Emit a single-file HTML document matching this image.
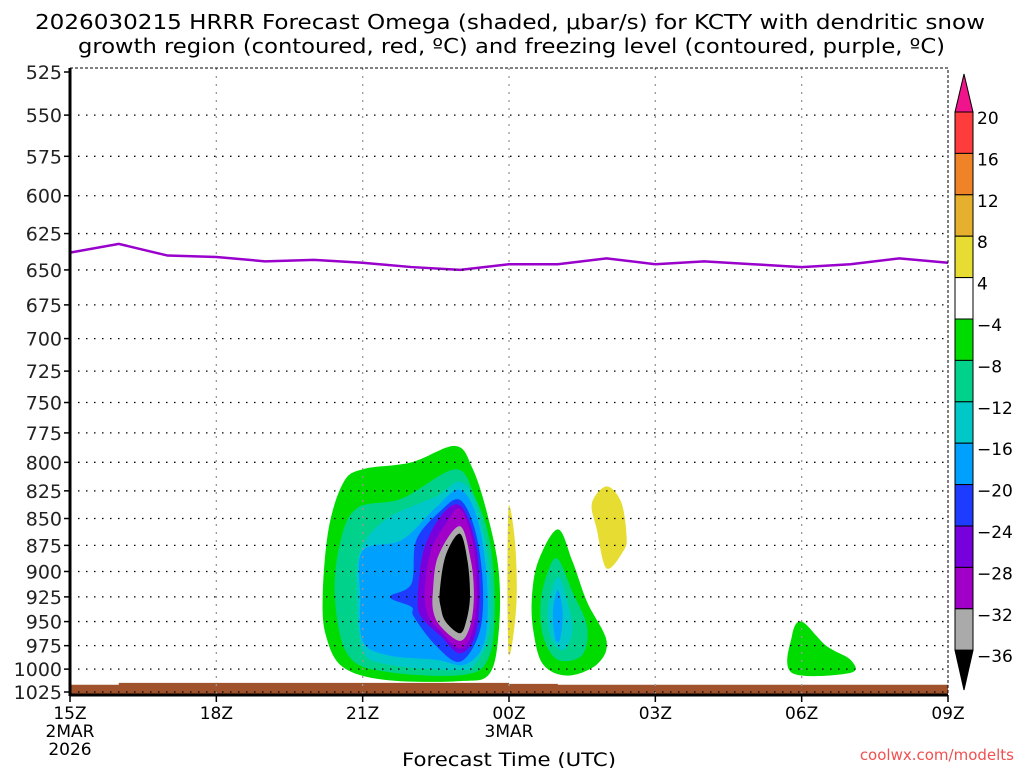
<!DOCTYPE html>
<html><head><meta charset="utf-8"><style>
body{margin:0;background:#fff;}
svg{display:block;font-family:"DejaVu Sans","Liberation Sans",sans-serif;}
</style></head><body>
<svg id="chart" width="1024" height="768" viewBox="0 0 1024 768">
<text x="35" y="29" font-size="20" textLength="950" lengthAdjust="spacingAndGlyphs">2026030215 HRRR Forecast Omega (shaded, μbar/s) for KCTY with dendritic snow</text>
<text x="78" y="53" font-size="20" textLength="867" lengthAdjust="spacingAndGlyphs">growth region (contoured, red, ºC) and freezing level (contoured, purple, ºC)</text>
<g id="shades"></g>
<g id="grid"></g>
<g id="axes"></g>
<g id="cbar"></g>
<text x="402" y="766" font-size="19" textLength="214" lengthAdjust="spacingAndGlyphs">Forecast Time (UTC)</text>
<text x="1014" y="760" font-size="15" text-anchor="end" fill="#f05050">coolwx.com/modelts</text>
</svg>
<script>
const pressureTicks=[525,550,575,600,625,650,675,700,725,750,775,800,825,850,875,900,925,950,975,1000,1025];
const timeTickHours=[15,18,21,24,27,30,33];
const timeTickLabels=["15Z","18Z","21Z","00Z","03Z","06Z","09Z"];
const freezeHours=[15,16,17,18,19,20,21,22,23,24,25,26,27,28,29,30,31,32,33];
const freezeLevel=[638,632,640,641,644,643,645,648,650,646,646,642,646,644,646,648,646,642,645];
const groundHours=[15,16,17,18,19,20,21,22,23,24,25,26,27,28,29,30,31,32,33];
const groundPres=[1017,1015,1015,1015,1015,1015,1015,1015,1015,1016,1017,1017,1017,1017,1017,1017,1017,1017,1017];
const cbLevels=["20","16","12","8","4","−4","−8","−12","−16","−20","−24","−28","−32","−36"];
const cbColors=["#ff3c3c","#f08228","#e6af2d","#e6dc32","#ffffff","#00dc00","#00d28c","#00c8c8","#00a0ff","#1e3cff","#7800dc","#a000c8","#aaaaaa"];
const regGreen=[[20.18,925],[20.3,860],[20.6,818],[21.0,806],[22.0,800],[22.9,786],[23.25,805],[23.55,845],[23.79,900],[23.79,960],[23.6,1005],[23.0,1013],[21.5,1012],[20.6,998],[20.25,965]];
const regTeal=[[20.43,925],[20.55,870],[20.9,840],[21.8,832],[22.9,806],[23.3,830],[23.6,870],[23.71,930],[23.6,985],[23.1,1006],[21.5,1003],[20.7,985]];
const regCyan=[[20.88,925],[20.95,880],[21.5,850],[22.5,830],[23.0,817],[23.35,840],[23.6,900],[23.6,960],[23.3,995],[22.9,1001],[21.5,995],[21.0,980]];
const regLightBlue=[[20.95,925],[21.0,880],[21.8,870],[22.5,840],[22.99,824],[23.35,850],[23.55,910],[23.5,970],[23.1,995],[22.5,990],[21.5,985],[21.0,970]];
const regBlue=[[21.56,925],[22.0,912],[22.1,870],[22.6,843],[22.99,833],[23.3,860],[23.46,910],[23.4,960],[23.0,992],[22.5,975],[22.05,945],[22.0,935]];
const regPurple=[[22.13,925],[22.25,880],[22.6,848],[22.99,838],[23.3,870],[23.4,920],[23.3,965],[22.99,983],[22.6,965],[22.2,945]];
const regViolet=[[22.27,920],[22.4,880],[22.7,855],[22.99,841],[23.25,870],[23.34,920],[23.25,960],[22.99,978],[22.6,960],[22.35,945]];
const regGray=[[22.44,920],[22.55,885],[22.99,857],[23.22,890],[23.28,925],[23.2,955],[22.99,970],[22.6,955],[22.45,940]];
const regBlack=[[22.58,920],[22.7,885],[22.99,864],[23.15,890],[23.2,925],[23.12,950],[22.99,962],[22.7,950],[22.6,935]];
const regYellow1=[[24.0,838],[24.12,870],[24.16,920],[24.1,960],[24.0,985],[23.97,940],[23.97,880]];
const regYellow2=[[26.0,821],[26.3,835],[26.41,866],[26.35,880],[26.0,897],[25.8,860],[25.7,836]];
const reg2Green=[[25.0,860],[25.3,890],[25.6,930],[26.0,970],[25.8,995],[25.2,1007],[24.7,995],[24.5,960],[24.47,925],[24.6,890]];
const reg2Teal=[[25.0,888],[25.3,920],[25.6,955],[25.5,985],[25.0,990],[24.7,965],[24.65,930],[24.8,900]];
const reg2Cyan=[[25.0,905],[25.2,930],[25.3,960],[25.1,980],[24.85,965],[24.8,935]];
const reg2LightBlue=[[25.0,918],[25.1,940],[25.05,968],[24.95,968],[24.9,940]];
const reg3Green=[[30.0,950],[30.5,975],[31.0,990],[31.0,1004],[29.8,1004],[29.8,965]];

const NS="http://www.w3.org/2000/svg";
const X0=70,X1=948,Y0=68,YB=695;
const x=h=>X0+(h-15)*(X1-X0)/18;
const y=p=>72+(Math.log(p)-Math.log(525))/(Math.log(1025)-Math.log(525))*620;
function mk(t,a,parent){const e=document.createElementNS(NS,t);for(const k in a)e.setAttribute(k,a[k]);parent.appendChild(e);return e;}
function smooth(pts){
  const P=pts.map(q=>[x(q[0]),y(q[1])]);const n=P.length;let d=`M${P[0][0]},${P[0][1]}`;
  for(let i=0;i<n;i++){const p0=P[(i-1+n)%n],p1=P[i],p2=P[(i+1)%n],p3=P[(i+2)%n];
    d+=`C${p1[0]+(p2[0]-p0[0])/6},${p1[1]+(p2[1]-p0[1])/6} ${p2[0]-(p3[0]-p1[0])/6},${p2[1]-(p3[1]-p1[1])/6} ${p2[0]},${p2[1]}`;}
  return d+"Z";}
const shades=document.getElementById('shades');
const regions=[[regGreen,"#00dc00","omega-minus4"],[regTeal,"#00d28c","omega-minus8"],[regCyan,"#00c8c8","omega-minus12"],[regLightBlue,"#00a0ff","omega-minus16"],[regBlue,"#1e3cff","omega-minus20"],[regPurple,"#7800dc","omega-minus24"],[regViolet,"#a000c8","omega-minus28"],[regGray,"#aaaaaa","omega-minus32"],[regBlack,"#000000","omega-minus36"],[regYellow1,"#e6dc32","omega-plus4-a"],[regYellow2,"#e6dc32","omega-plus4-b"],[reg2Green,"#00dc00","omega2-minus4"],[reg2Teal,"#00d28c","omega2-minus8"],[reg2Cyan,"#00c8c8","omega2-minus12"],[reg2LightBlue,"#00a0ff","omega2-minus16"],[reg3Green,"#00dc00","omega3-minus4"]];
regions.forEach(r=>{const e=mk('path',{d:smooth(r[0]),fill:r[1]},shades);

});
let gd=`M${x(groundHours[0])},${YB}`;groundHours.forEach((h,i)=>{gd+=`L${x(h)},${y(groundPres[i])}`;if(i<groundHours.length-1)gd+=`L${x(groundHours[i+1])},${y(groundPres[i])}`;});
gd+=`L${X1},${YB}Z`;
const g=mk('path',{d:gd,fill:"#a0522d"},shades);


const fl=mk('polyline',{points:freezeHours.map((h,i)=>`${x(h)},${y(freezeLevel[i])}`).join(' '),fill:"none",stroke:"#9900cc","stroke-width":2.5},shades);


const grid=document.getElementById('grid');
pressureTicks.forEach(p=>{if(p===525)return;mk('line',{x1:X0,x2:X1,y1:y(p),y2:y(p),stroke:"#000","stroke-width":1.3,"stroke-dasharray":"1.5 6.5"},grid);});
timeTickHours.forEach(h=>{if(h===15||h===33)return;mk('line',{x1:x(h),x2:x(h),y1:Y0,y2:YB,stroke:"#999","stroke-width":1.3,"stroke-dasharray":"2 6"},grid);});
const ax=document.getElementById('axes');
mk('rect',{x:X0,y:Y0,width:X1-X0,height:YB-Y0,fill:"none",stroke:"#000","stroke-width":1,"stroke-dasharray":"3 2"},ax);
mk('line',{x1:X0,x2:X0,y1:Y0,y2:YB+1,stroke:"#000","stroke-width":3},ax);
mk('line',{x1:X0,x2:X1,y1:YB,y2:YB,stroke:"#000","stroke-width":3},ax);
pressureTicks.forEach(p=>{mk('line',{x1:X0-6,x2:X0,y1:y(p),y2:y(p),stroke:"#000","stroke-width":1.5},ax);
const t=mk('text',{x:X0-8,y:y(p)+7,"font-size":19,"text-anchor":"end",fill:"#222"},ax);t.textContent=p;

});
timeTickHours.forEach((h,i)=>{mk('line',{x1:x(h),x2:x(h),y1:YB,y2:YB+7,stroke:"#000","stroke-width":1.5},ax);
const t=mk('text',{x:x(h),y:719,"font-size":17,"text-anchor":"middle"},ax);t.textContent=timeTickLabels[i];

});
[["2MAR",x(15),737],["2026",x(15),755],["3MAR",x(24),737]].forEach(a=>{const t=mk('text',{x:a[1],y:a[2],"font-size":17,"text-anchor":"middle"},ax);t.textContent=a[0];

});
const cb=document.getElementById('cbar');
const CX=955,CW=18,CT=112,BH=41.4;
mk('polygon',{points:`${CX},${CT} ${CX+CW/2},74 ${CX+CW},${CT}`,fill:"#f0148c",stroke:"#000"},cb);
cbColors.forEach((c,i)=>{const r=mk('rect',{x:CX,y:CT+i*BH,width:CW,height:BH,fill:c,stroke:"#000","stroke-width":1},cb);

});
const CE=CT+cbColors.length*BH;
mk('polygon',{points:`${CX},${CE} ${CX+CW/2},690 ${CX+CW},${CE}`,fill:"#000",stroke:"#000"},cb);
cbLevels.forEach((l,i)=>{const t=mk('text',{x:CX+CW+4,y:CT+i*BH+12,"font-size":17},cb);t.textContent=l;

});
</script>
</body></html>
